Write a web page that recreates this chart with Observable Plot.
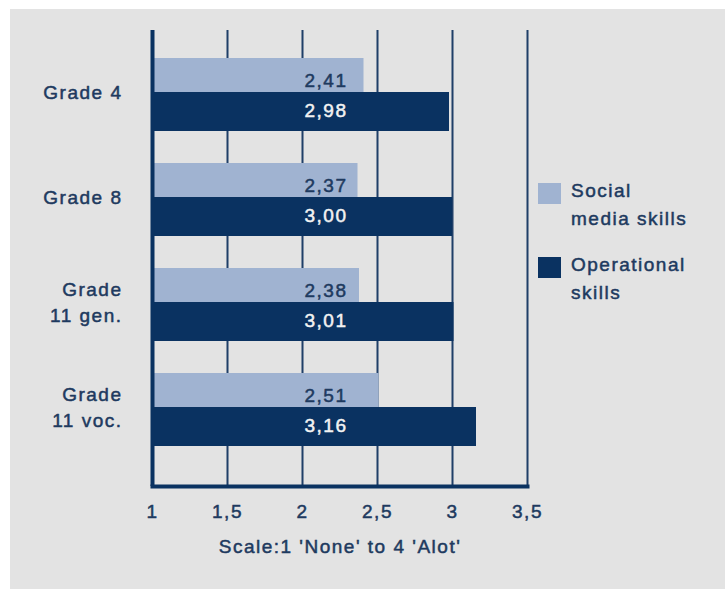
<!DOCTYPE html>
<html>
<head>
<meta charset="utf-8">
<script src="https://cdn.jsdelivr.net/npm/d3@7"></script>
<script src="https://cdn.jsdelivr.net/npm/@observablehq/plot@0.6"></script>
<style>
  html, body { margin: 0; padding: 0; background: #ffffff; }
  #panel {
    position: absolute; left: 10px; top: 9px; width: 715px; height: 580px;
    background: #e3e3e3; overflow: hidden;
    font-family: "Liberation Sans", Arial, sans-serif;
  }
  #legend { position: absolute; left: 528px; top: 172px; color: #1e3a5f; font-size: 19px; letter-spacing: 1.5px; -webkit-text-stroke: 0.5px #1e3a5f; }
  .item { display: flex; align-items: flex-start; margin-bottom: 22px; }
  .swatch { width: 23px; height: 21px; margin-right: 10px; margin-top: 2px; flex: none; }
  .item span { line-height: 28px; margin-top: -4px; }
  #chart svg text { paint-order: stroke; stroke-width: 0.5px; }
</style>
</head>
<body>
<div id="panel"><div id="chart"></div><div id="legend"></div></div>
<script>
// Self-reported skills by grade, mean on a 1–4 scale
const grades = ["Grade 4", "Grade 8", "Grade 11 gen.", "Grade 11 voc."];
const gradeLabels = ["Grade 4", "Grade 8", "Grade\n11 gen.", "Grade\n11 voc."];
const socialMedia = [2.41, 2.37, 2.38, 2.51];
const operational = [2.98, 3.00, 3.01, 3.16];
const xTicks = [1, 1.5, 2, 2.5, 3, 3.5];
const seriesNames = ["Social\nmedia skills", "Operational\nskills"];
const seriesColors = ["#a0b3d1", "#0a3261"];
const navy = "#1e3a5f";

const comma = d => String(d).replace(".", ",");
const fmt = v => v.toFixed(2).replace(".", ",");

const social = grades.map((g, i) => ({grade: g, value: socialMedia[i]}));
const oper = grades.map((g, i) => ({grade: g, value: operational[i]}));
const labels = grades.map((g, i) => ({grade: g, text: gradeLabels[i]}));

const chart = Plot.plot({
  width: 715,
  height: 580,
  marginLeft: 142,
  marginRight: 198,
  marginTop: 21,
  marginBottom: 103,
  style: {
    background: "transparent",
    fontFamily: "'Liberation Sans', Arial, sans-serif",
    fontSize: "19px",
    letterSpacing: "1.5px",
    color: navy
  },
  x: {
    domain: [1, 3.5],
    ticks: xTicks,
    tickSize: 0,
    tickPadding: 18,
    tickFormat: comma,
    label: "Scale:1 'None' to 4 'Alot'",
    labelArrow: "none",
    labelAnchor: "center",
    labelOffset: 66
  },
  y: {
    domain: grades,
    paddingInner: 0.307,
    paddingOuter: 0.31,
    align: 0.41,
    axis: null
  },
  marks: [
    Plot.ruleX(xTicks.slice(1), {stroke: "#1f3f68", strokeWidth: 2}),
    Plot.barX(social, {x1: 1, x2: "value", y: "grade", fill: seriesColors[0], insetBottom: 39, insetTop: 0}),
    Plot.barX(oper, {x1: 1, x2: "value", y: "grade", fill: seriesColors[1], insetTop: 34, insetBottom: 0}),
    Plot.ruleX([1], {stroke: "#0a3261", strokeWidth: 4}),
    Plot.frame({anchor: "bottom", stroke: "#0a3261", strokeWidth: 4}),
    Plot.text(social, {y: "grade", text: d => fmt(d.value), frameAnchor: "middle", dx: -14, dy: -14, fill: navy, stroke: navy, fontSize: 19}),
    Plot.text(oper, {y: "grade", text: d => fmt(d.value), frameAnchor: "middle", dx: -14, dy: 16, fill: "#f2f2f2", stroke: "#f2f2f2", fontSize: 19}),
    Plot.text(labels, {y: "grade", text: "text", frameAnchor: "left", textAnchor: "end", dx: -30, dy: -4, lineHeight: 1.37, fill: navy, stroke: navy, fontSize: 19})
  ]
});
document.getElementById("chart").appendChild(chart);
// Axis tick labels and title get the same slight stroke as the marks
chart.querySelectorAll("[aria-label^='x-axis'] text").forEach(t => { t.setAttribute("stroke", navy); t.setAttribute("fill", navy); });

// Legend
const legend = document.getElementById("legend");
seriesNames.forEach((name, i) => {
  const item = document.createElement("div");
  item.className = "item";
  const sw = document.createElement("div");
  sw.className = "swatch";
  sw.style.background = seriesColors[i];
  const label = document.createElement("span");
  label.innerHTML = name.split("\n").join("<br>");
  item.appendChild(sw);
  item.appendChild(label);
  legend.appendChild(item);
});
</script>
</body>
</html>
